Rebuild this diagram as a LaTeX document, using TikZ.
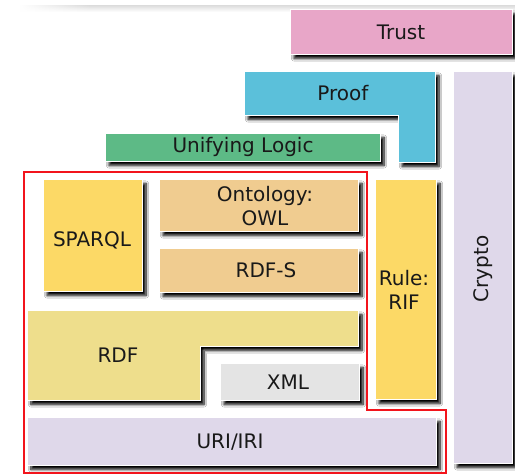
\documentclass[tikz,border=0pt]{standalone}
\usepackage{fontspec}
\setmainfont{DejaVu Sans}
\usetikzlibrary{shadows.blur,fadings}
\definecolor{trustc}{HTML}{E8A6C8}
\definecolor{proofc}{HTML}{5BC0DA}
\definecolor{logicc}{HTML}{5DBA86}
\definecolor{cryptoc}{HTML}{DFD8EA}
\definecolor{sparqlc}{HTML}{FCD966}
\definecolor{owlc}{HTML}{F0CC90}
\definecolor{rdfc}{HTML}{EEDE8C}
\definecolor{xmlc}{HTML}{E4E4E4}
\definecolor{redc}{HTML}{F2141C}
\begin{document}
\begin{tikzpicture}[x=1pt,y=-1pt,
  layer/.style={draw=white,line width=0.6pt,
    blur shadow={shadow xshift=4pt,shadow yshift=-4.5pt,shadow blur radius=2.6pt,shadow opacity=100,shadow blur steps=8}},
  lbl/.style={text=black!90,font=\fontsize{20}{23.5}\selectfont,align=center,inner sep=0pt}]
\useasboundingbox (0,0) rectangle (515,475);
\fill[white] (0,0) rectangle (515,475);
% faint band along the top edge, fading out to the left
\shade[top color=black!14,bottom color=white] (90,5) rectangle (515,12);
\shade[top color=black!14,bottom color=white,path fading=west] (20,5) rectangle (90.5,12);

% upper layers
\path[layer,fill=trustc] (290,9) rectangle (512,54);
\path[layer,fill=cryptoc] (453,71) rectangle (512,463);
\path[layer,fill=proofc] (244,71) -- (435,71) -- (435,162) -- (398,162) -- (398,115) -- (244,115) -- cycle;
\path[layer,fill=logicc] (105,133) rectangle (380,161);

% query, ontology and rule layers
\path[layer,fill=sparqlc] (43,179) rectangle (142,291);
\path[layer,fill=owlc] (159,179) rectangle (358,231);
\path[layer,fill=owlc] (159,248) rectangle (358,292);
\path[layer,fill=sparqlc] (375,179) rectangle (436,399);

% data interchange and syntax
\path[layer,fill=rdfc] (27,310) -- (358,310) -- (358,346) -- (200,346) -- (200,400) -- (27,400) -- cycle;
\path[layer,fill=xmlc] (220,363) rectangle (359,400);
\path[layer,fill=cryptoc] (27,417) rectangle (436,465);

% red outline around the standards group
\draw[redc,line width=1.3pt] (24,473) -- (24,172) -- (367,172) -- (367,410) -- (446,410) -- (446,473) -- cycle;

% labels
\node[lbl] (trust) at (401,32) {Trust};
\node[lbl] (proof) at (343,93) {Proof};
\node[lbl] (logic) at (243,147) {Unifying Logic};
\node[lbl,rotate=90] (crypto) at (483,269) {Crypto};
\node[lbl] (sparql) at (92,240) {SPARQL};
\node[lbl] (owl) at (265,206) {Ontology:\\OWL};
\node[lbl] (rdfs) at (266,270) {RDF-S};
\node[lbl] (rif) at (404,290) {Rule:\\RIF};
\node[lbl] (rdf) at (118,355) {RDF};
\node[lbl] (xml) at (288,382) {XML};
\node[lbl] (uri) at (230,442) {URI/IRI};
\end{tikzpicture}
\end{document}
